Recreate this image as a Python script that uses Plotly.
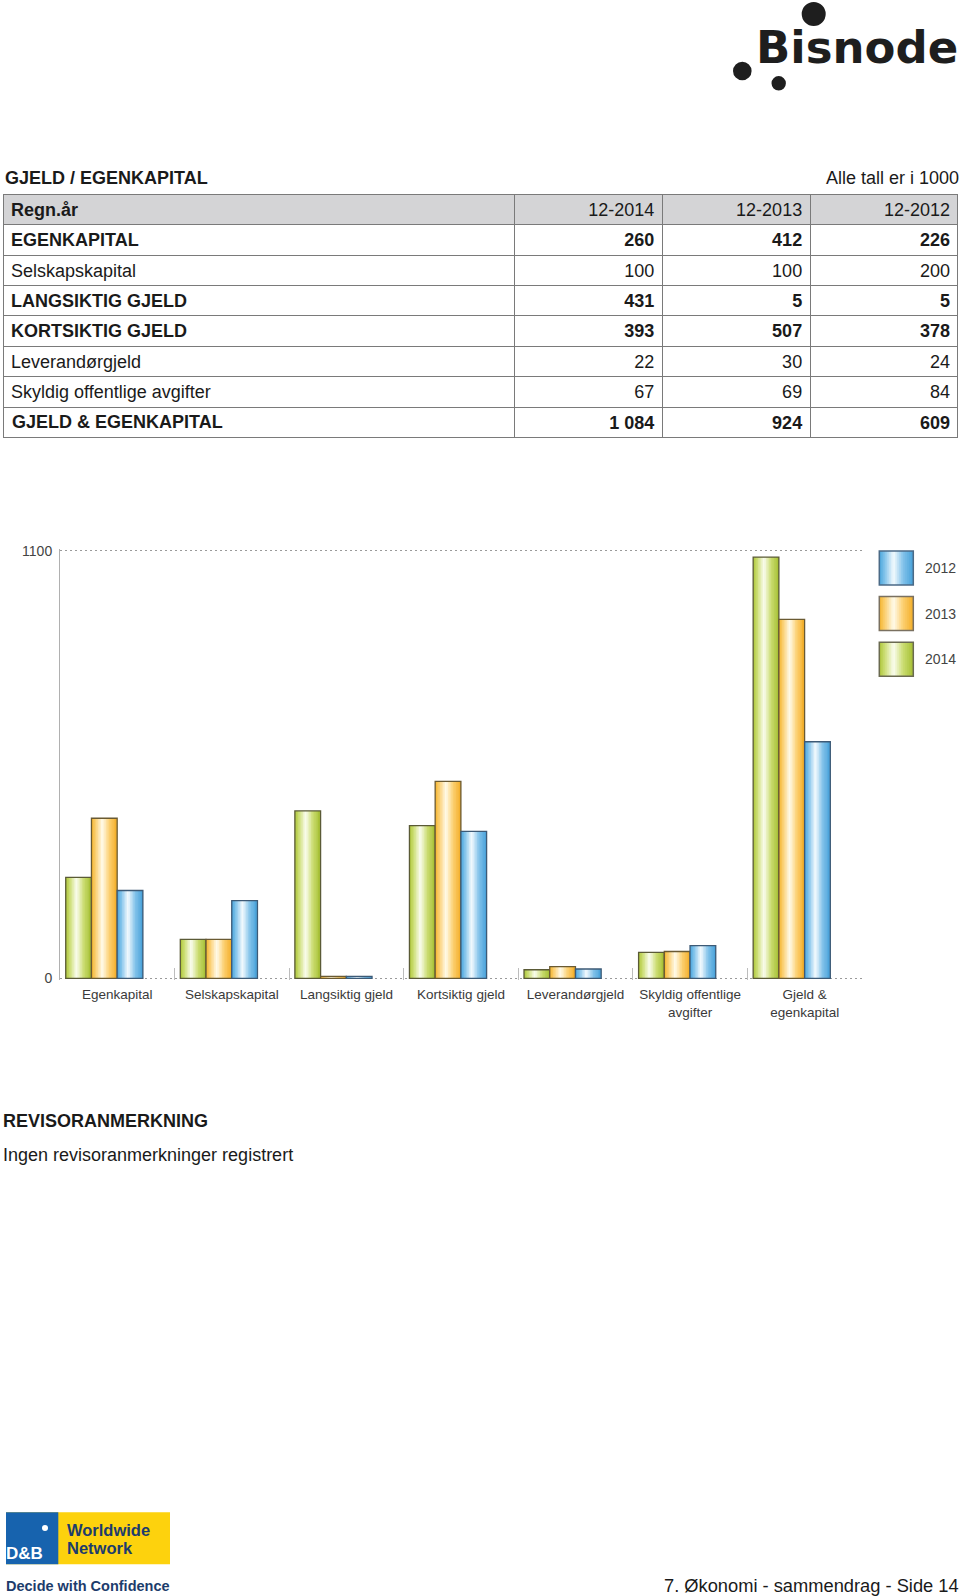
import plotly.graph_objects as go

# ---------------- data ----------------
categories = ["Egenkapital", "Selskapskapital", "Langsiktig gjeld", "Kortsiktig gjeld",
              "Leverandørgjeld", "Skyldig offentlige<br>avgifter", "Gjeld &<br>egenkapital"]
values_2014 = [260, 100, 431, 393, 22, 67, 1084]
values_2013 = [412, 100, 5, 507, 30, 69, 924]
values_2012 = [226, 200, 5, 378, 24, 84, 609]

table_rows = ["EGENKAPITAL", "Selskapskapital", "LANGSIKTIG GJELD", "KORTSIKTIG GJELD",
              "Leverandørgjeld", "Skyldig offentlige avgifter", "GJELD & EGENKAPITAL"]
table_bold = [True, False, True, True, False, False, True]
periods = ["12-2014", "12-2013", "12-2012"]
legend_years = ["2012", "2013", "2014"]
y_ticks = [0, 1100]

# ---------------- helpers ----------------
W, H = 960, 1596
FONT = "Liberation Sans"


def px(x):
    return x / W


def py(y):
    return 1 - y / H


def hex2rgb(h):
    h = h.lstrip("#")
    return tuple(int(h[i:i + 2], 16) for i in (0, 2, 4))


def sample(scale, t):
    for (t0, c0), (t1, c1) in zip(scale[:-1], scale[1:]):
        if t0 <= t <= t1:
            f = (t - t0) / (t1 - t0) if t1 > t0 else 0
            a, b = hex2rgb(c0), hex2rgb(c1)
            return "rgb(%d,%d,%d)" % tuple(round(a[i] + (b[i] - a[i]) * f) for i in range(3))
    return scale[-1][1]


green_scale = [(0, "#adc638"), (0.18, "#cfe07c"), (0.42, "#fbfdf0"), (0.7, "#cadc70"), (1, "#a5bf33")]
orange_scale = [(0, "#f5b42c"), (0.18, "#fbd27a"), (0.42, "#fffbeb"), (0.7, "#fccf6f"), (1, "#f3ae28")]
blue_scale = [(0, "#49a5dd"), (0.18, "#8ac7ec"), (0.42, "#f5fbfe"), (0.7, "#82c2ea"), (1, "#47a1d9")]

BAR_W = 0.2245
N = 16
series = [
    (values_2014, -0.450, green_scale, "#5a5a36"),
    (values_2013, -0.2255, orange_scale, "#6a5a32"),
    (values_2012, -0.001, blue_scale, "#3d5a76"),
]

fig = go.Figure()
annotations = []
shapes = []


def txt(s, x, y, size=18, color="#1a1a1a", xanchor="left", family=FONT):
    annotations.append(dict(text=s, xref="paper", yref="paper", x=px(x), y=py(y),
                            xanchor=xanchor, yanchor="middle", showarrow=False,
                            font=dict(family=family, size=size, color=color)))


# ---------------- table (regular layer + bold layer on top) ----------------
def fmt(v):
    return f"{v:,}".replace(",", " ")


T_TOP = 194.3
RH = 30.4
full_cols = [list(table_rows)] + [[fmt(v) for v in vals]
                                  for vals in (values_2014, values_2013, values_2012)]
# labels holding '&' are drawn as annotations (plotly tables treat '&' as markup and grow the row)
amp_rows = [i for i, s in enumerate(table_rows) if "&" in s]
for i in amp_rows:
    full_cols[0][i] = ""
    txt(("<b>%s</b>" if table_bold[i] else "%s") % table_rows[i].replace("&", "&amp;"),
        10, T_TOP + RH * (i + 1.5))

reg_cols = [[s if not bo else "" for s, bo in zip(col, table_bold)] for col in full_cols]
bold_cols = [[s if bo else "" for s, bo in zip(col, table_bold)] for col in full_cols]
header_full = ["Regn.år"] + periods
header_bold_flags = [True, False, False, False]
header_reg = [h if not bo else "" for h, bo in zip(header_full, header_bold_flags)]
header_bold = [h if bo else "" for h, bo in zip(header_full, header_bold_flags)]

T_DOMAIN = dict(x=[px(3), px(959)], y=[py(452), py(T_TOP)])
ALIGN = ["left", "right", "right", "right"]
CW = [512, 148, 148, 148]

fig.add_trace(go.Table(
    domain=T_DOMAIN, columnwidth=CW,
    header=dict(values=header_reg, align=ALIGN,
                fill_color="#d4d4d6", line=dict(color="#7a7a7a", width=1),
                font=dict(family=FONT, size=18, color="#1a1a1a"), height=RH),
    cells=dict(values=reg_cols, align=ALIGN,
               fill_color="white", line=dict(color="#7a7a7a", width=1),
               font=dict(family=FONT, size=18, color="#1a1a1a"), height=RH),
))
fig.add_trace(go.Table(
    domain=T_DOMAIN, columnwidth=CW,
    header=dict(values=header_bold, align=ALIGN,
                fill_color="rgba(0,0,0,0)", line=dict(color="rgba(0,0,0,0)", width=1),
                font=dict(family=FONT, size=18, color="#1a1a1a", weight="bold"), height=RH),
    cells=dict(values=bold_cols, align=ALIGN,
               fill_color="rgba(0,0,0,0)", line=dict(color="rgba(0,0,0,0)", width=1),
               font=dict(family=FONT, size=18, color="#1a1a1a", weight="bold"), height=RH),
))

# ---------------- bars (gradient via slices) ----------------
sw = BAR_W / N
for vals, off, scale, lc in series:
    for k in range(N):
        wk = min(sw * 1.8, BAR_W - k * sw)
        fig.add_trace(go.Bar(
            x=categories, y=vals, width=wk, offset=off + k * sw,
            marker=dict(color=sample(scale, (k + 0.5) / N), line=dict(width=0)),
            showlegend=False, hoverinfo="skip"))
    fig.add_trace(go.Bar(
        x=categories, y=vals, width=BAR_W, offset=off,
        marker=dict(color="rgba(0,0,0,0)", line=dict(color=lc, width=1.3)),
        showlegend=False))

# y range padded a little so that the dotted gridlines at 0 and 1100 are kept
PAD = 4
upx = (978.3 - 551) / 1100.0
fig.update_layout(
    width=W, height=H, margin=dict(l=0, r=0, t=0, b=0, autoexpand=False),
    paper_bgcolor="white", plot_bgcolor="white",
    barmode="overlay", showlegend=False,
    font=dict(family=FONT, color="#333"),
    xaxis=dict(domain=[px(60), px(862)], type="category", automargin=False,
               tickson="boundaries", ticks="inside", ticklen=12, tickcolor="#bdbdbd",
               tickwidth=1, showline=False, showgrid=False, zeroline=False,
               ticklabelstandoff=5,
               tickfont=dict(family=FONT, size=13.5, color="#3a3a3a")),
    yaxis=dict(domain=[py(978.3 + PAD * upx), py(551 - PAD * upx)], range=[-PAD, 1100 + PAD],
               tickvals=y_ticks, automargin=False,
               showgrid=True, gridcolor="#9a9a9a", griddash="2px,3px", gridwidth=1,
               zeroline=False, showline=True, linecolor="#b0b0b0", linewidth=1,
               ticks="", ticklabelstandoff=4,
               tickfont=dict(family=FONT, size=14, color="#444")),
)

# ---------------- legend (gradient swatches) ----------------
leg_scales = {"2012": (blue_scale, "#4b6a86"), "2013": (orange_scale, "#7a7060"),
              "2014": (green_scale, "#6a6a50")}
for i, yr in enumerate(legend_years):
    scale, lc = leg_scales[yr]
    top = 551 + i * 45.6
    x0, x1 = 879.3, 913.3
    ns = 17
    for k in range(ns):
        xa = x0 + (x1 - x0) * k / ns
        xb = min(x1, x0 + (x1 - x0) * (k + 1.8) / ns)
        shapes.append(dict(type="rect", xref="paper", yref="paper",
                           x0=px(xa), x1=px(xb), y0=py(top + 34), y1=py(top),
                           fillcolor=sample(scale, (k + 0.5) / ns), line=dict(width=0), layer="above"))
    shapes.append(dict(type="rect", xref="paper", yref="paper",
                       x0=px(x0), x1=px(x1), y0=py(top + 34), y1=py(top),
                       fillcolor="rgba(0,0,0,0)", line=dict(color=lc, width=1.5), layer="above"))
    annotations.append(dict(text=yr, xref="paper", yref="paper", x=px(923), y=py(top + 17),
                            xanchor="left", yanchor="middle", showarrow=False,
                            font=dict(family=FONT, size=14, color="#444")))

# ---------------- page texts ----------------
txt("<b>GJELD / EGENKAPITAL</b>", 3, 178)
txt("Alle tall er i 1000", 961, 178, xanchor="right")
txt("<b>REVISORANMERKNING</b>", 1, 1121)
txt("Ingen revisoranmerkninger registrert", 1, 1155)
txt("7. Økonomi - sammendrag - Side 14", 961, 1585, size=18.3, xanchor="right")

# Bisnode logo
txt("<b>Bisnode</b>", 960, 47, size=45, color="#1e1e1e", xanchor="right", family="DejaVu Sans")
for cx, cy, r in [(813.7, 14, 12), (742.3, 71, 9.3), (778.7, 83.3, 7.2)]:
    shapes.append(dict(type="circle", xref="paper", yref="paper",
                       x0=px(cx - r), x1=px(cx + r), y0=py(cy + r), y1=py(cy - r),
                       fillcolor="#1e1e1e", line=dict(width=0)))

# D&B logo
shapes.append(dict(type="rect", xref="paper", yref="paper", x0=px(6), x1=px(170),
                   y0=py(1564.3), y1=py(1512.3), fillcolor="#fdd20d", line=dict(width=0)))
shapes.append(dict(type="rect", xref="paper", yref="paper", x0=px(6), x1=px(58.3),
                   y0=py(1564.3), y1=py(1512.3), fillcolor="#1763ae", line=dict(width=0)))
shapes.append(dict(type="circle", xref="paper", yref="paper", x0=px(42), x1=px(48),
                   y0=py(1531), y1=py(1525), fillcolor="white", line=dict(width=0)))
txt("<b>Worldwide</b>", 65, 1530, size=16.5, color="#1d3c6c")
txt("<b>Network</b>", 65, 1548, size=16.5, color="#1d3c6c")
txt("<b>D&amp;B</b>", 4, 1553, size=17, color="white")
txt("<b>Decide with Confidence</b>", 4, 1586, size=14.5, color="#1d3c6c")

fig.update_layout(shapes=shapes, annotations=annotations)

fig.write_html("out.html", config={"displayModeBar": False},
               post_script="document.body.style.margin='0';document.body.style.overflow='hidden';")
